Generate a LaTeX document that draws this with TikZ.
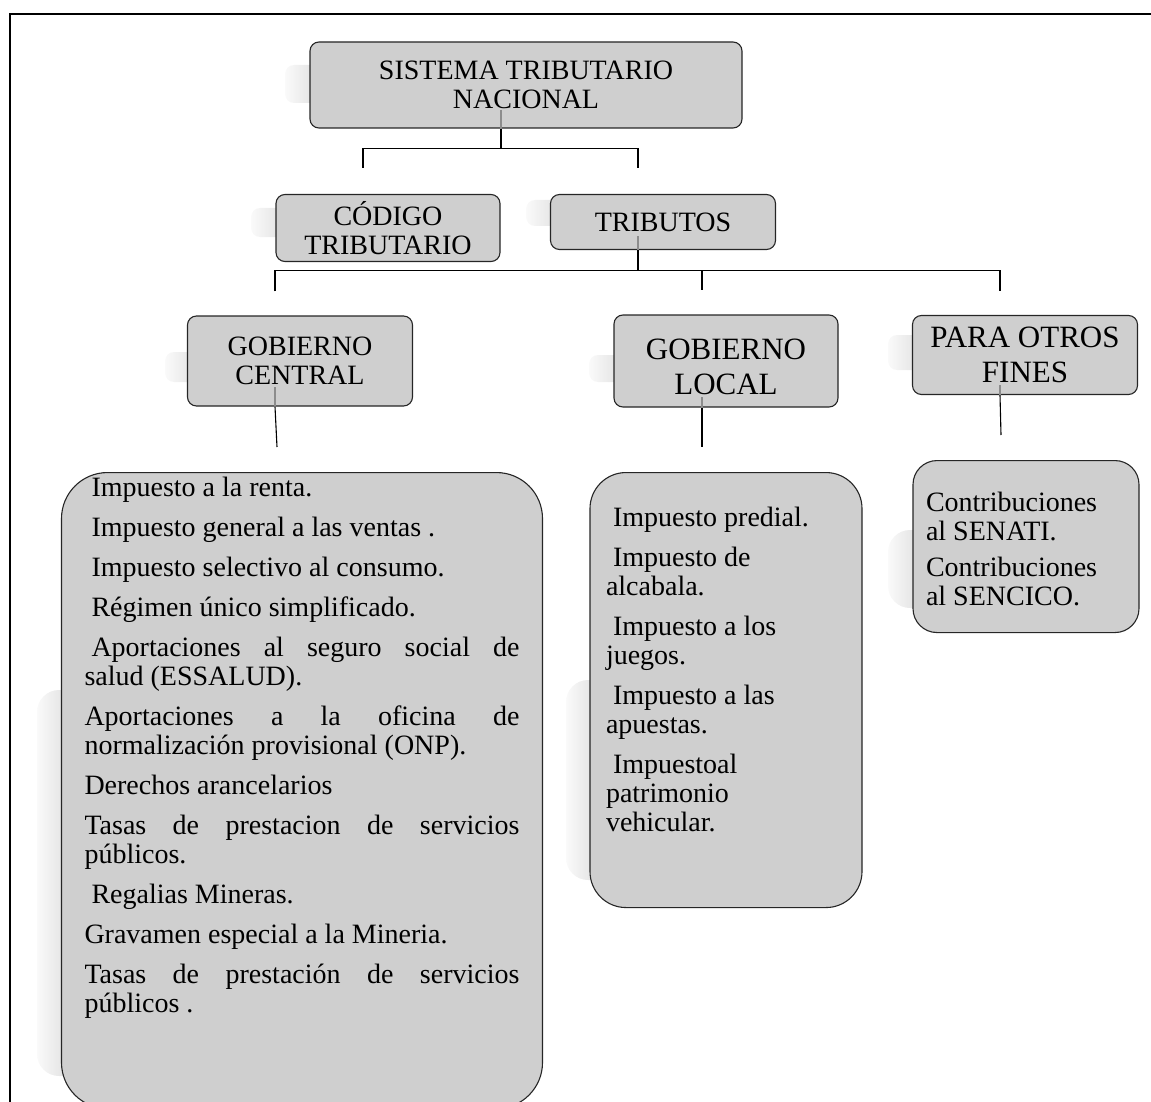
\documentclass[tikz,border=0pt]{standalone}
\usepackage{fontspec}
\setmainfont{Liberation Serif}
\usetikzlibrary{calc}

\tikzset{
  box/.style={draw=black!85, line width=1.1pt, fill=black!19, rounded corners=9pt,
    inner sep=0pt, align=center},
  head/.style={box, font=\fontsize{28}{29}\selectfont},
  bighead/.style={box, font=\fontsize{31}{35}\selectfont},
  listbox/.style={box, font=\fontsize{28}{29}\selectfont, anchor=north, align=left},
  glow/.style={left color=black!2, right color=black!14, rounded corners=9pt},
  bigglow/.style={left color=black!2, right color=black!18, rounded corners=22pt},
  link/.style={line width=1.1pt},
  inlink/.style={line width=1.1pt, draw=black!45},
}
\newcommand{\itemskip}{\par\vspace{11pt}}
\newcommand{\lead}{\hspace*{7pt}}

\begin{document}
\begin{tikzpicture}[x=1pt, y=-1pt]
  \useasboundingbox (0,0) rectangle (1151,1102);
  % page frame
  \draw[line width=2.4pt] (10,1130) -- (10,14) -- (1180,14);

  % soft shadows, only their left part shows
  \shade[glow] (285,65) rectangle (325,103);
  \shade[glow] (251,208) rectangle (291,237);
  \shade[glow] (526,200) rectangle (566,226);
  \shade[glow] (165,352) rectangle (205,382);
  \shade[glow] (589,355) rectangle (629,382);
  \shade[glow] (888,335) rectangle (928,370);
  \shade[bigglow] (37,690) rectangle (87,1076);
  \shade[bigglow] (566,680) rectangle (616,880);
  \shade[bigglow] (888,530) rectangle (938,608);

  % heading boxes
  \node[head, minimum width=432, minimum height=86] (stn) at (526,85) {SISTEMA TRIBUTARIO\\NACIONAL};
  \node[head, minimum width=224, minimum height=67] (ct) at (388,228) {CÓDIGO\\TRIBUTARIO};
  \node[head, minimum width=225, minimum height=55] (trib) at (663,222) {TRIBUTOS};
  \node[head, minimum width=225, minimum height=90] (gc) at (300,361) {GOBIERNO\\CENTRAL};
  \node[bighead, minimum width=224, minimum height=92] (gl) at (726,361) {\rule{0pt}{33pt}GOBIERNO\\LOCAL};
  \node[bighead, minimum width=225, minimum height=79] (otros) at (1025,355) {PARA OTROS\\FINES};

  % lists
  \node[listbox, rounded corners=46pt, minimum width=481, inner ysep=5pt] (gclist) at (302,472)
    {\parbox[t][626pt][t]{435pt}{\lead Impuesto a la renta.\itemskip
      \lead Impuesto general a las ventas .\itemskip
      \lead Impuesto selectivo al consumo.\itemskip
      \lead Régimen único simplificado.\itemskip
      \lead Aportaciones al seguro social de\linebreak salud (ESSALUD).\itemskip
      Aportaciones a la oficina de\linebreak normalización provisional (ONP).\itemskip
      Derechos arancelarios\itemskip
      Tasas de prestacion de servicios\linebreak públicos.\itemskip
      \lead Regalias Mineras.\itemskip
      Gravamen especial a la Mineria.\itemskip
      Tasas de prestación de servicios\linebreak públicos .}};
  \node[listbox, rounded corners=36pt, minimum width=272, inner ysep=35pt] (gllist) at (726,472)
    {\parbox[t][365pt][t]{240pt}{\raggedright
      \lead Impuesto predial.\itemskip
      \lead Impuesto de\\alcabala.\itemskip
      \lead Impuesto a los\\juegos.\itemskip
      \lead Impuesto a las\\apuestas.\itemskip
      \lead Impuestoal\\patrimonio\\vehicular.}};
  \node[listbox, rounded corners=24pt, minimum width=226, inner ysep=32pt] (otroslist) at (1026,460)
    {\parbox[t][108pt][t]{200pt}{\raggedright
      Contribuciones\\al SENATI.\par\vspace{7pt}
      Contribuciones\\al SENCICO.}};

  % connectors
  \coordinate (j1) at ($(stn.south)+(-25,20)$);
  \coordinate (ctin) at ($(ct.north)+(-25,-26)$);
  \coordinate (tribin) at ($(trib.north)+(-25,-26)$);
  \draw[inlink] ($(stn.center)+(-25,25)$) -- ($(stn.south)+(-25,0)$);
  \draw[link] ($(stn.south)+(-25,0)$) -- (j1);
  \draw[link] (ctin) |- (j1) -| (tribin);

  \coordinate (j2) at ($(trib.south)+(-25,20)$);
  \coordinate (gcin) at ($(gc.north)+(-25,-24)$);
  \coordinate (glin) at ($(gl.north)+(-24,-24)$);
  \coordinate (otrosin) at ($(otros.north)+(-25,-24)$);
  \draw[inlink] ($(trib.center)+(-25,14)$) -- ($(trib.south)+(-25,0)$);
  \draw[link] ($(trib.south)+(-25,0)$) -- (j2);
  \draw[link] (gcin) |- (j2) -| (otrosin);
  \draw[link] (j2) -| (glin);

  \coordinate (gcout) at ($(gclist.north)+(-25,-25)$);
  \coordinate (glout) at ($(gllist.north)+(-24,-25)$);
  \coordinate (otrosout) at ($(otroslist.north)+(-25,-25)$);
  \draw[inlink] ($(gc.center)+(-25,26)$) -- ($(gc.south)+(-25,0)$);
  \draw[link] ($(gc.south)+(-25,0)$) -- (gcout);
  \draw[inlink] ($(gl.center)+(-24,36)$) -- ($(gl.south)+(-24,0)$);
  \draw[link] ($(gl.south)+(-24,0)$) -- (glout);
  \draw[inlink] ($(otros.center)+(-25,30)$) -- ($(otros.south)+(-25,0)$);
  \draw[link] ($(otros.south)+(-25,0)$) -- (otrosout);
\end{tikzpicture}
\end{document}
